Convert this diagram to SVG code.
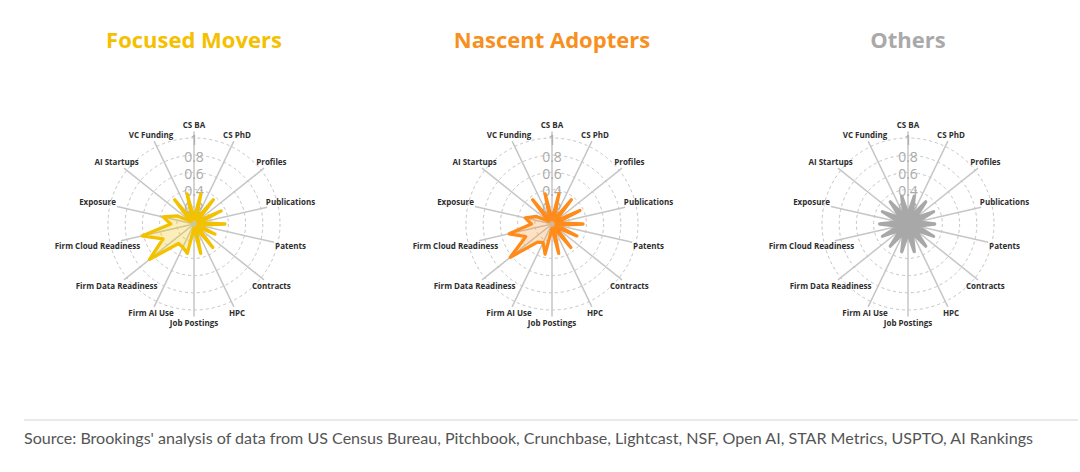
<svg xmlns="http://www.w3.org/2000/svg" width="1080" height="472" viewBox="0 0 1080 472">
<style>
.bg{fill:#ffffff}
.title{font-family:"Open Sans","Liberation Sans",sans-serif;font-weight:700;font-size:22px;text-anchor:middle}
.ring{fill:none;stroke:#c4c4c4;stroke-width:1;stroke-dasharray:3 3}
.axis{stroke:#c6c6c6;stroke-width:1.5;fill:none}
.tick{font-family:"Open Sans","Liberation Sans",sans-serif;font-size:14px;fill:#aaaaaa;text-anchor:middle}
.lab{font-family:"Open Sans","Liberation Sans",sans-serif;font-weight:700;font-size:8px;fill:#2e2e2e;text-anchor:middle}
.data{stroke-width:3.3;stroke-linejoin:round}
.foot{font-family:Lato,"Liberation Sans",sans-serif;font-size:15px;fill:#555555}
</style>
<rect class="bg" x="0" y="0" width="1080" height="472"/>

<text class="title" x="194" y="48" fill="#F4C000">Focused Movers</text>
<text class="title" x="552" y="48" fill="#F7901E">Nascent Adopters</text>
<text class="title" x="908" y="48" fill="#A9A9A9">Others</text>

<g id="chart-focused" transform="translate(194,224)">
  <g class="grid">
    <circle class="ring" r="17.2"/><circle class="ring" r="34.4"/><circle class="ring" r="51.6"/><circle class="ring" r="68.8"/><circle class="ring" r="86"/>
  </g>
  <g class="axes">
    <line class="axis" x1="0" y1="0" x2="0" y2="-92.5"/>
    <line class="axis" x1="0" y1="0" x2="39.9" y2="-82.9"/>
    <line class="axis" x1="0" y1="0" x2="70" y2="-55.8"/>
    <line class="axis" x1="0" y1="0" x2="73.1" y2="-16.7"/>
    <line class="axis" x1="0" y1="0" x2="80.1" y2="18.3"/>
    <line class="axis" x1="0" y1="0" x2="70" y2="55.8"/>
    <line class="axis" x1="0" y1="0" x2="39.9" y2="82.9"/>
    <line class="axis" x1="0" y1="0" x2="0" y2="92.5"/>
    <line class="axis" x1="0" y1="0" x2="-39.9" y2="82.9"/>
    <line class="axis" x1="0" y1="0" x2="-70" y2="55.8"/>
    <line class="axis" x1="0" y1="0" x2="-73.1" y2="16.7"/>
    <line class="axis" x1="0" y1="0" x2="-77" y2="-17.6"/>
    <line class="axis" x1="0" y1="0" x2="-70" y2="-55.8"/>
    <line class="axis" x1="0" y1="0" x2="-39.9" y2="-82.9"/>
  </g>
  <g class="ticks">
    <text class="tick" x="0" y="-79.5">1</text>
    <text class="tick" x="0" y="-62.3">0.8</text>
    <text class="tick" x="0" y="-45.1">0.6</text>
    <text class="tick" x="0" y="-27.9">0.4</text>
    <text class="tick" x="0" y="-10.7">0.2</text>
  </g>
  <polygon class="data" fill="#F2C200" fill-opacity="0.28" stroke="#F2C200" points="0,-5.2 6.9,-30.2 2.3,-4.7 19.3,-24.2 3.4,-2.7 27.1,-13.1 5.1,-1.2 31,0 4.2,1 20.9,10.1 3.4,2.7 18.8,23.5 1.9,3.9 6.7,29.3 0,4.3 -6.7,29.3 -11.2,23.2 -15.5,19.5 -44.4,35.4 -31,14.9 -52,11.9 -23.2,0 -31,-7.1 -17,-8.2 -3.4,-2.7 -19.3,-24.2 -1.9,-3.9 -6.9,-30.2"/>
  <g class="labels">
    <text class="lab" x="0" y="-96.2">CS BA</text>
    <text class="lab" x="43" y="-86.4">CS PhD</text>
    <text class="lab" x="77.4" y="-58.9">Profiles</text>
    <text class="lab" x="96.5" y="-19.2">Publications</text>
    <text class="lab" x="96.5" y="24.8">Patents</text>
    <text class="lab" x="77.4" y="64.5">Contracts</text>
    <text class="lab" x="43" y="92">HPC</text>
    <text class="lab" x="0" y="101.8">Job Postings</text>
    <text class="lab" x="-43" y="92">Firm AI Use</text>
    <text class="lab" x="-77.4" y="64.5">Firm Data Readiness</text>
    <text class="lab" x="-96.5" y="24.8">Firm Cloud Readiness</text>
    <text class="lab" x="-96.5" y="-19.2">Exposure</text>
    <text class="lab" x="-77.4" y="-58.9">AI Startups</text>
    <text class="lab" x="-43" y="-86.4">VC Funding</text>
  </g>
</g>

<g id="chart-nascent" transform="translate(552,224)">
  <g class="grid">
    <circle class="ring" r="17.2"/><circle class="ring" r="34.4"/><circle class="ring" r="51.6"/><circle class="ring" r="68.8"/><circle class="ring" r="86"/>
  </g>
  <g class="axes">
    <line class="axis" x1="0" y1="0" x2="0" y2="-92.5"/>
    <line class="axis" x1="0" y1="0" x2="39.9" y2="-82.9"/>
    <line class="axis" x1="0" y1="0" x2="70" y2="-55.8"/>
    <line class="axis" x1="0" y1="0" x2="73.1" y2="-16.7"/>
    <line class="axis" x1="0" y1="0" x2="80.1" y2="18.3"/>
    <line class="axis" x1="0" y1="0" x2="70" y2="55.8"/>
    <line class="axis" x1="0" y1="0" x2="39.9" y2="82.9"/>
    <line class="axis" x1="0" y1="0" x2="0" y2="92.5"/>
    <line class="axis" x1="0" y1="0" x2="-39.9" y2="82.9"/>
    <line class="axis" x1="0" y1="0" x2="-70" y2="55.8"/>
    <line class="axis" x1="0" y1="0" x2="-73.1" y2="16.7"/>
    <line class="axis" x1="0" y1="0" x2="-77" y2="-17.6"/>
    <line class="axis" x1="0" y1="0" x2="-70" y2="-55.8"/>
    <line class="axis" x1="0" y1="0" x2="-39.9" y2="-82.9"/>
  </g>
  <g class="ticks">
    <text class="tick" x="0" y="-79.5">1</text>
    <text class="tick" x="0" y="-62.3">0.8</text>
    <text class="tick" x="0" y="-45.1">0.6</text>
    <text class="tick" x="0" y="-27.9">0.4</text>
    <text class="tick" x="0" y="-10.7">0.2</text>
  </g>
  <polygon class="data" fill="#FF8C1A" fill-opacity="0.26" stroke="#FF8C1A" points="0,-4.3 6.9,-30.2 1.9,-3.9 19.3,-24.2 3.4,-2.7 27.9,-13.5 4.2,-1 31,0 4.2,1 24.8,11.9 3.4,2.7 18.8,23.5 1.9,3.9 6.7,29.3 0,4.3 -6.9,30.2 -8.9,18.6 -14.5,18.1 -41.7,33.2 -26.3,12.7 -42.8,9.8 -20.6,0 -26.8,-6.1 -15.5,-7.5 -3.4,-2.7 -19.3,-24.2 -1.9,-3.9 -6.9,-30.2"/>
  <g class="labels">
    <text class="lab" x="0" y="-96.2">CS BA</text>
    <text class="lab" x="43" y="-86.4">CS PhD</text>
    <text class="lab" x="77.4" y="-58.9">Profiles</text>
    <text class="lab" x="96.5" y="-19.2">Publications</text>
    <text class="lab" x="96.5" y="24.8">Patents</text>
    <text class="lab" x="77.4" y="64.5">Contracts</text>
    <text class="lab" x="43" y="92">HPC</text>
    <text class="lab" x="0" y="101.8">Job Postings</text>
    <text class="lab" x="-43" y="92">Firm AI Use</text>
    <text class="lab" x="-77.4" y="64.5">Firm Data Readiness</text>
    <text class="lab" x="-96.5" y="24.8">Firm Cloud Readiness</text>
    <text class="lab" x="-96.5" y="-19.2">Exposure</text>
    <text class="lab" x="-77.4" y="-58.9">AI Startups</text>
    <text class="lab" x="-43" y="-86.4">VC Funding</text>
  </g>
</g>

<g id="chart-others" transform="translate(908,224)">
  <g class="grid">
    <circle class="ring" r="17.2"/><circle class="ring" r="34.4"/><circle class="ring" r="51.6"/><circle class="ring" r="68.8"/><circle class="ring" r="86"/>
  </g>
  <g class="axes">
    <line class="axis" x1="0" y1="0" x2="0" y2="-92.5"/>
    <line class="axis" x1="0" y1="0" x2="39.9" y2="-82.9"/>
    <line class="axis" x1="0" y1="0" x2="70" y2="-55.8"/>
    <line class="axis" x1="0" y1="0" x2="73.1" y2="-16.7"/>
    <line class="axis" x1="0" y1="0" x2="80.1" y2="18.3"/>
    <line class="axis" x1="0" y1="0" x2="70" y2="55.8"/>
    <line class="axis" x1="0" y1="0" x2="39.9" y2="82.9"/>
    <line class="axis" x1="0" y1="0" x2="0" y2="92.5"/>
    <line class="axis" x1="0" y1="0" x2="-39.9" y2="82.9"/>
    <line class="axis" x1="0" y1="0" x2="-70" y2="55.8"/>
    <line class="axis" x1="0" y1="0" x2="-73.1" y2="16.7"/>
    <line class="axis" x1="0" y1="0" x2="-77" y2="-17.6"/>
    <line class="axis" x1="0" y1="0" x2="-70" y2="-55.8"/>
    <line class="axis" x1="0" y1="0" x2="-39.9" y2="-82.9"/>
  </g>
  <g class="ticks">
    <text class="tick" x="0" y="-79.5">1</text>
    <text class="tick" x="0" y="-62.3">0.8</text>
    <text class="tick" x="0" y="-45.1">0.6</text>
    <text class="tick" x="0" y="-27.9">0.4</text>
    <text class="tick" x="0" y="-10.7">0.2</text>
  </g>
  <polygon class="data" fill="#A8A8A8" stroke="#A8A8A8" stroke-width="4" points="0,-9.5 6.3,-27.7 4.1,-8.6 17.7,-22.2 7.4,-5.9 25.6,-12.3 9.3,-2.1 26.7,0 9.3,2.1 25.6,12.3 7.4,5.9 17.7,22.2 4.1,8.6 6.3,27.7 0,9.5 -6.3,27.7 -4.1,8.6 -17.7,22.2 -7.4,5.9 -25.6,12.3 -9.3,2.1 -28.4,0 -9.3,-2.1 -25.6,-12.3 -7.4,-5.9 -17.7,-22.2 -4.1,-8.6 -6.3,-27.7"/>
  <g class="labels">
    <text class="lab" x="0" y="-96.2">CS BA</text>
    <text class="lab" x="43" y="-86.4">CS PhD</text>
    <text class="lab" x="77.4" y="-58.9">Profiles</text>
    <text class="lab" x="96.5" y="-19.2">Publications</text>
    <text class="lab" x="96.5" y="24.8">Patents</text>
    <text class="lab" x="77.4" y="64.5">Contracts</text>
    <text class="lab" x="43" y="92">HPC</text>
    <text class="lab" x="0" y="101.8">Job Postings</text>
    <text class="lab" x="-43" y="92">Firm AI Use</text>
    <text class="lab" x="-77.4" y="64.5">Firm Data Readiness</text>
    <text class="lab" x="-96.5" y="24.8">Firm Cloud Readiness</text>
    <text class="lab" x="-96.5" y="-19.2">Exposure</text>
    <text class="lab" x="-77.4" y="-58.9">AI Startups</text>
    <text class="lab" x="-43" y="-86.4">VC Funding</text>
  </g>
</g>

<line x1="24" y1="420" x2="1078" y2="420" stroke="#e2e2e2" stroke-width="1.5"/>
<text class="foot" x="24" y="444" textLength="1009" lengthAdjust="spacingAndGlyphs">Source: Brookings' analysis of data from US Census Bureau, Pitchbook, Crunchbase, Lightcast, NSF, Open AI, STAR Metrics, USPTO, AI Rankings</text>
</svg>
